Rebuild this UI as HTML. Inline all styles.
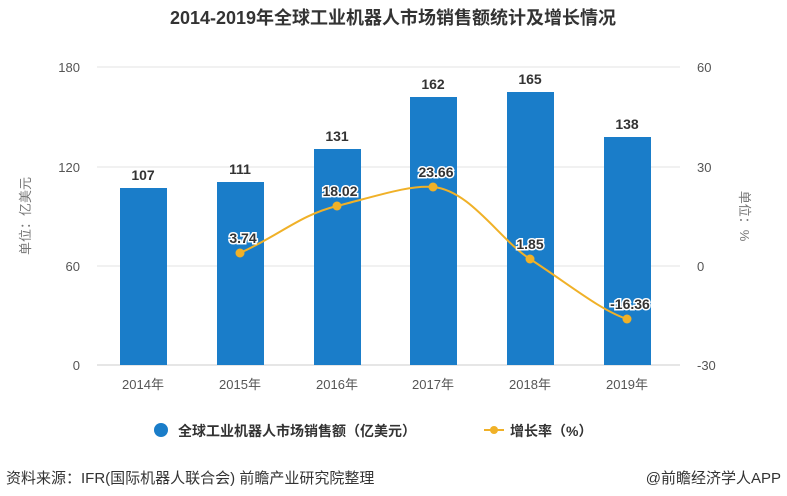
<!DOCTYPE html>
<html><head><meta charset="utf-8"><style>
html,body{margin:0;padding:0;background:#fff;width:787px;height:496px;overflow:hidden}
svg{display:block}
text{font-family:"Liberation Sans","Noto Sans CJK SC",sans-serif}
</style></head><body>
<svg width="787" height="496" viewBox="0 0 787 496">
<text x="393" y="24" text-anchor="middle" font-size="18" font-weight="bold" fill="#333">2014-2019年全球工业机器人市场销售额统计及增长情况</text>
<g stroke="#e3e3e3" stroke-width="1">
<line x1="97" y1="67" x2="680" y2="67"/><line x1="97" y1="167" x2="680" y2="167"/>
<line x1="97" y1="266" x2="680" y2="266"/>
</g>
<line x1="97" y1="365" x2="680" y2="365" stroke="#ccc"/>
<g font-size="13" fill="#555" text-anchor="end">
<text x="80" y="72">180</text><text x="80" y="172">120</text><text x="80" y="271">60</text><text x="80" y="370">0</text>
</g>
<g font-size="13" fill="#555" text-anchor="start">
<text x="697" y="72">60</text><text x="697" y="172">30</text><text x="697" y="271">0</text><text x="697" y="370">-30</text>
</g>
<text transform="translate(30,216) rotate(-90)" text-anchor="middle" font-size="13" fill="#777">单位：亿美元</text>
<text transform="translate(740,216) rotate(90)" text-anchor="middle" font-size="13" fill="#777">单位：%</text>
<g fill="#1a7dc9">
<rect x="120" y="188" width="47" height="177"/>
<rect x="217" y="182" width="47" height="183"/>
<rect x="314" y="149" width="47" height="216"/>
<rect x="410" y="97" width="47" height="268"/>
<rect x="507" y="92" width="47" height="273"/>
<rect x="604" y="137" width="47" height="228"/>
</g>
<g font-size="14" font-weight="bold" fill="#333" text-anchor="middle">
<text x="143" y="180">107</text><text x="240" y="174">111</text><text x="337" y="141">131</text>
<text x="433" y="89">162</text><text x="530" y="84">165</text><text x="627" y="129">138</text>
</g>
<g font-size="13" fill="#555" text-anchor="middle">
<text x="143" y="389">2014年</text><text x="240" y="389">2015年</text><text x="337" y="389">2016年</text>
<text x="433" y="389">2017年</text><text x="530" y="389">2018年</text><text x="627" y="389">2019年</text>
</g>
<path d="M240,253 C280,235 300,215 337,206 C380,195 410,185 433,187 C470,190 500,240 530,259 C570,285 600,310 627,319" fill="none" stroke="#f0b128" stroke-width="2"/>
<g fill="#f0b128">
<circle cx="240" cy="253" r="4.5"/><circle cx="337" cy="206" r="4.5"/><circle cx="433" cy="187" r="4.5"/>
<circle cx="530" cy="259" r="4.5"/><circle cx="627" cy="319" r="4.5"/>
</g>
<g font-size="14" font-weight="bold" fill="#333" text-anchor="middle" stroke="#fff" stroke-width="3" paint-order="stroke">
<text x="243" y="243">3.74</text><text x="340" y="196">18.02</text><text x="436" y="177">23.66</text>
<text x="530" y="249">1.85</text><text x="630" y="309">-16.36</text>
</g>
<circle cx="161" cy="430" r="7" fill="#1a7dc9"/>
<text x="178" y="436" font-size="14" font-weight="bold" fill="#333">全球工业机器人市场销售额（亿美元）</text>
<line x1="484" y1="430" x2="504" y2="430" stroke="#f0b128" stroke-width="2"/>
<circle cx="494" cy="430" r="4" fill="#f0b128"/>
<text x="510" y="436" font-size="14" font-weight="bold" fill="#333">增长率（%）</text>
<text x="6" y="483" font-size="15" fill="#333">资料来源：IFR(国际机器人联合会) 前瞻产业研究院整理</text>
<text x="781" y="483" font-size="15" fill="#333" text-anchor="end">@前瞻经济学人APP</text>
</svg>
</body></html>
